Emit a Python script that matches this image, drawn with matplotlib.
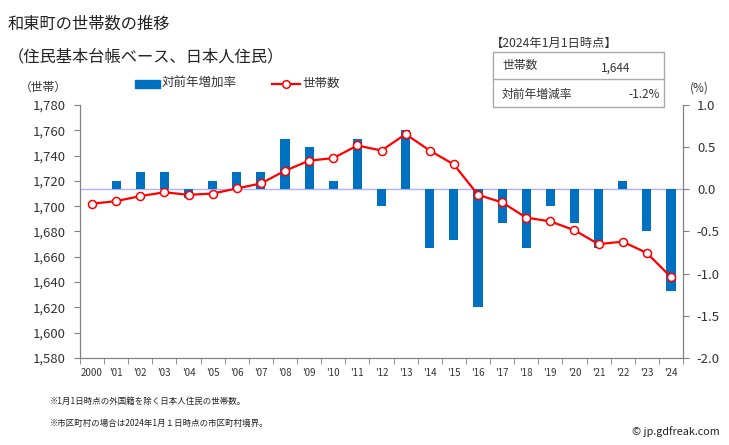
import matplotlib
matplotlib.use("Agg")
import matplotlib.pyplot as plt
import numpy as np
from matplotlib.patches import Rectangle
from matplotlib.lines import Line2D

plt.rcParams['font.family'] = ['Noto Sans CJK JP', 'DejaVu Sans']

years = ["2000", "'01", "'02", "'03", "'04", "'05", "'06", "'07", "'08", "'09",
         "'10", "'11", "'12", "'13", "'14", "'15", "'16", "'17", "'18", "'19",
         "'20", "'21", "'22", "'23", "'24"]
households = [1702, 1704, 1708, 1711, 1709, 1710, 1714, 1718, 1728, 1736,
              1738, 1748, 1744, 1757, 1744, 1733, 1709, 1703, 1691, 1688,
              1681, 1670, 1672, 1663, 1644]
rates = [0.0, 0.1, 0.2, 0.2, -0.1, 0.1, 0.2, 0.2, 0.6, 0.5,
         0.1, 0.6, -0.2, 0.7, -0.7, -0.6, -1.4, -0.4, -0.7, -0.2,
         -0.4, -0.7, 0.1, -0.5, -1.2]

W, H = 729, 445
fig = plt.figure(figsize=(W / 100, H / 100), dpi=100)
ax = fig.add_axes([80 / W, 1 - 358 / H, (683 - 80) / W, (358 - 105) / H])
ax2 = ax.twinx()

x = np.arange(len(years))
gray = '#808080'
txt = '#333333'

# bars on the right axis (behind)
ax2.bar(x, rates, width=0.38, color='#0070c0', zorder=2)
ax2.axhline(0, color='#b0b0ff', lw=1, zorder=1)
ax2.set_ylim(-2.0, 1.0)
ax2.set_yticks(np.arange(-2.0, 1.01, 0.5))
ax2.set_yticklabels(['%.1f' % v for v in np.arange(-2.0, 1.01, 0.5)])

# line on the left axis (front)
ax.set_zorder(ax2.get_zorder() + 1)
ax.patch.set_visible(False)
ax.plot(x, households, color='#ff0000', lw=1.6, marker='o', markersize=5.8,
        markerfacecolor='white', markeredgecolor='#ff0000', markeredgewidth=1.1, zorder=3)
ax.set_ylim(1580, 1780)
ax.set_yticks(np.arange(1580, 1781, 20))
ax.set_yticklabels(['{:,}'.format(v) for v in range(1580, 1781, 20)])
ax.set_xlim(-0.5, len(years) - 0.5)
ax.set_xticks(x)
ax.set_xticklabels(years)
ax.set_xticks(np.arange(-0.5, len(years), 1), minor=True)
ax.tick_params(axis='x', which='major', length=0, labelsize=7, colors=txt, pad=7)
ax.tick_params(axis='x', which='minor', length=4, color=gray)
ax.tick_params(axis='y', length=4, color=gray, labelsize=9.5, labelcolor=txt, pad=6)
ax2.tick_params(axis='y', length=4, color=gray, labelsize=9.5, labelcolor=txt, pad=6)

for a in (ax, ax2):
    a.spines['top'].set_visible(False)
    for s in ('left', 'right', 'bottom'):
        a.spines[s].set_color(gray)

# titles
fig.text(8 / W, 1 - 24 / H, '和東町の世帯数の推移', fontsize=11.7, va='center', color='#222222')
fig.text(8 / W, 1 - 57 / H, '（住民基本台帳ベース、日本人住民）', fontsize=11.7, va='center', color='#222222')
fig.text(20 / W, 1 - 87 / H, '（世帯）', fontsize=8.5, va='center', color=txt)
fig.text(690 / W, 1 - 88 / H, '(%)', fontsize=8.5, va='center', color=txt)

# legend
fig.patches.append(Rectangle((135 / W, 1 - 88 / H), 25 / W, 8 / H, transform=fig.transFigure,
                             color='#0070c0'))
fig.text(162 / W, 1 - 83 / H, '対前年増加率', fontsize=9, va='center', color=txt)
fig.lines.append(Line2D([272 / W, 300 / W], [1 - 84 / H, 1 - 84 / H], transform=fig.transFigure,
                        color='#ff0000', lw=1.6))
fig.lines.append(Line2D([286 / W], [1 - 84 / H], transform=fig.transFigure, color='#ff0000',
                        marker='o', markersize=5.5, markerfacecolor='white', markeredgewidth=1.1))
fig.text(302 / W, 1 - 83 / H, '世帯数', fontsize=9, va='center', color=txt)

# info box
fig.text(491 / W, 1 - 43 / H, '【2024年1月1日時点】', fontsize=8.8, va='center', color=txt)
fig.patches.append(Rectangle((493 / W, 1 - 107 / H), 171 / W, 55 / H, transform=fig.transFigure,
                             fill=False, edgecolor='#aaaaaa', lw=1))
fig.lines.append(Line2D([493 / W, 664 / W], [1 - 79 / H, 1 - 79 / H], transform=fig.transFigure,
                        color='#aaaaaa', lw=1))
fig.text(502 / W, 1 - 66 / H, '世帯数', fontsize=8.5, va='center', color=txt)
fig.text(630 / W, 1 - 68 / H, '1,644', fontsize=8.5, va='center', ha='right', color=txt)
fig.text(502 / W, 1 - 94 / H, '対前年増減率', fontsize=8.5, va='center', color=txt)
fig.text(660 / W, 1 - 94 / H, '-1.2%', fontsize=8.5, va='center', ha='right', color=txt)

# footnotes
fig.text(50 / W, 1 - 401 / H, '※1月1日時点の外国籍を除く日本人住民の世帯数。', fontsize=6.1, va='center', color='#222222')
fig.text(50 / W, 1 - 423 / H, '※市区町村の場合は2024年1月１日時点の市区町村境界。', fontsize=6.1, va='center', color='#222222')
fig.text(720 / W, 1 - 432 / H, '© jp.gdfreak.com', fontsize=7.8, va='center', ha='right', color='#222222')

fig.savefig('out.png', dpi=100)
